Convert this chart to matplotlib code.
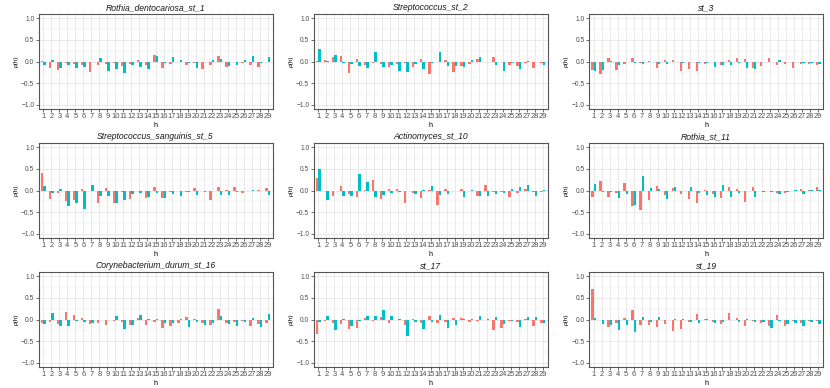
import matplotlib
matplotlib.use('Agg')
import matplotlib.pyplot as plt
import numpy as np

plt.rcParams['font.family'] = ['Liberation Sans', 'DejaVu Sans']

h = list(range(1, 30))

titles = ["Rothia_dentocariosa_st_1", "Streptococcus_st_2", "st_3",
          "Streptococcus_sanguinis_st_5", "Actinomyces_st_10", "Rothia_st_11",
          "Corynebacterium_durum_st_16", "st_17", "st_19"]

p1_red = [0.02, -0.15, -0.19, -0.04, -0.05, -0.08, -0.25, -0.07, -0.05, -0.03, -0.10, -0.05, 0.03, -0.07, 0.14,
          -0.14, -0.05, 0.00, -0.09, -0.04, -0.18, -0.09, 0.12, -0.12, 0.00, -0.03, -0.07, -0.12, -0.02]
p1_teal = [-0.07, 0.03, -0.15, -0.07, -0.15, -0.12, -0.02, 0.08, -0.22, -0.18, -0.27, -0.08, -0.13, -0.17, 0.13,
           -0.03, 0.10, 0.03, -0.03, -0.15, -0.02, 0.03, 0.05, -0.10, -0.07, 0.03, 0.12, -0.03, 0.10]

p2_red = [0.02, 0.04, 0.10, 0.12, -0.27, 0.05, -0.07, -0.03, -0.05, -0.12, -0.06, -0.03, -0.12, 0.05, -0.30,
          0.00, 0.04, -0.24, -0.10, -0.05, 0.05, -0.02, 0.10, 0.00, -0.07, -0.10, -0.04, -0.14, -0.03]
p2_teal = [0.28, 0.01, 0.15, -0.03, -0.05, -0.10, -0.14, 0.22, -0.13, -0.07, -0.22, -0.25, -0.05, -0.17, -0.03,
           0.22, -0.10, -0.10, -0.12, 0.03, 0.11, 0.00, -0.07, -0.22, -0.03, -0.17, 0.02, 0.00, -0.08]

p3_red = [-0.20, -0.28, 0.08, -0.20, -0.06, 0.08, -0.03, 0.02, -0.15, 0.04, 0.03, -0.23, -0.18, -0.22, -0.06,
          -0.02, -0.08, 0.03, 0.08, 0.05, -0.15, -0.10, 0.07, -0.07, -0.06, -0.15, -0.05, -0.05, -0.08]
p3_teal = [-0.22, -0.20, 0.02, -0.08, 0.00, -0.03, -0.05, 0.00, -0.05, -0.05, 0.00, -0.03, 0.00, -0.04, -0.03,
           -0.13, -0.09, -0.07, -0.04, -0.15, -0.17, 0.00, 0.00, 0.04, 0.00, 0.00, -0.03, -0.03, -0.05]

p4_red = [0.41, -0.20, -0.05, -0.24, -0.23, 0.03, -0.02, -0.28, 0.05, -0.30, -0.03, -0.20, 0.00, -0.18, 0.08,
          -0.17, -0.03, -0.02, -0.03, 0.06, 0.00, -0.21, 0.07, 0.02, 0.07, -0.06, -0.01, 0.01, 0.06]
p4_teal = [0.10, -0.06, 0.03, -0.35, -0.30, -0.43, 0.12, -0.12, -0.12, -0.30, -0.22, -0.07, -0.06, -0.14, -0.06,
           -0.17, -0.08, -0.13, -0.03, -0.10, -0.04, 0.00, -0.10, -0.10, -0.03, 0.00, 0.01, 0.00, -0.10]

p5_red = [0.30, 0.00, -0.13, 0.11, -0.07, -0.14, 0.02, 0.25, -0.20, 0.03, 0.04, -0.28, -0.06, -0.17, 0.02,
          -0.33, 0.04, -0.02, 0.04, -0.02, -0.13, 0.13, -0.04, -0.03, -0.14, -0.05, 0.04, -0.03, -0.03]
p5_teal = [0.50, -0.21, -0.02, -0.12, -0.12, 0.39, 0.20, -0.16, -0.10, -0.06, -0.03, 0.00, -0.09, 0.02, 0.10,
           -0.10, -0.07, 0.00, -0.16, 0.01, -0.12, -0.12, -0.07, -0.05, 0.04, 0.08, 0.13, -0.12, 0.02]

p6_red = [-0.16, 0.22, -0.14, -0.06, 0.18, -0.35, -0.44, -0.22, 0.10, -0.10, 0.05, -0.08, -0.20, -0.28, 0.01,
          -0.07, -0.18, 0.08, 0.03, -0.27, 0.08, -0.02, -0.02, -0.06, -0.05, -0.02, 0.04, 0.02, 0.07]
p6_teal = [0.15, -0.03, -0.03, -0.17, -0.08, -0.33, 0.34, 0.06, 0.03, -0.20, 0.09, -0.01, 0.08, -0.06, -0.10,
           -0.16, 0.13, -0.16, -0.05, -0.01, -0.14, -0.04, -0.03, -0.07, -0.03, 0.02, -0.07, 0.01, 0.02]

p7_red = [-0.07, -0.06, -0.10, 0.17, 0.11, 0.04, -0.10, -0.08, -0.12, -0.04, -0.05, -0.12, 0.03, -0.13, -0.05,
          -0.20, -0.14, -0.08, 0.06, 0.02, -0.08, -0.13, 0.25, -0.07, -0.05, -0.03, -0.15, -0.10, -0.08]
p7_teal = [-0.10, 0.16, -0.14, -0.16, -0.03, -0.06, -0.09, -0.01, 0.00, 0.07, -0.23, -0.12, 0.11, 0.02, 0.02,
           -0.08, -0.07, 0.02, -0.18, -0.06, -0.12, -0.07, 0.07, -0.10, -0.14, -0.06, 0.04, -0.17, 0.12]

p8_red = [-0.33, -0.04, -0.07, -0.10, -0.23, -0.19, 0.03, -0.04, 0.05, -0.09, 0.00, -0.13, 0.02, -0.08, 0.07,
          -0.08, -0.06, 0.04, 0.04, -0.06, -0.04, 0.00, -0.24, -0.20, -0.04, -0.06, 0.01, -0.14, -0.07]
p8_teal = [-0.06, 0.09, -0.24, 0.02, -0.15, -0.04, 0.08, 0.08, 0.21, 0.09, 0.02, -0.38, -0.06, -0.23, -0.05,
           0.10, -0.19, -0.13, 0.01, 0.01, 0.09, 0.02, 0.06, -0.10, -0.03, -0.17, 0.06, 0.05, -0.07]

p9_red = [0.71, -0.02, -0.18, -0.07, 0.04, 0.23, -0.13, -0.12, -0.17, -0.11, -0.27, -0.22, -0.05, 0.13, 0.02,
          -0.05, -0.10, 0.14, 0.04, -0.15, -0.03, -0.08, -0.14, 0.11, -0.16, -0.03, -0.08, -0.03, -0.04]
p9_teal = [0.04, -0.10, -0.13, -0.25, -0.13, -0.28, 0.06, -0.05, 0.06, 0.00, 0.02, 0.02, -0.05, -0.08, 0.01,
           -0.07, -0.06, -0.02, -0.05, 0.02, -0.05, -0.06, -0.19, -0.03, -0.10, -0.07, -0.14, -0.06, -0.10]

red_series = [p1_red, p2_red, p3_red, p4_red, p5_red, p6_red, p7_red, p8_red, p9_red]
teal_series = [p1_teal, p2_teal, p3_teal, p4_teal, p5_teal, p6_teal, p7_teal, p8_teal, p9_teal]

RED = '#F8766D'
TEAL = '#00BFC4'
W_FIG, H_FIG = 830, 388

fig = plt.figure(figsize=(8.3, 3.88), dpi=100)
fig.patch.set_facecolor('white')

lefts = [38.5, 313.5, 589.0]
tops = [14.0, 143.0, 272.0]
PW, PH = 234.0, 95.0

ytick_vals = [-1.0, -0.5, 0.0, 0.5, 1.0]
ytick_labels = ['\u22121.0', '\u22120.5', '0.0', '0.5', '1.0']

for i in range(9):
    row, col = divmod(i, 3)
    ax = fig.add_axes([lefts[col] / W_FIG, 1 - (tops[row] + PH) / H_FIG, PW / W_FIG, PH / H_FIG])
    x = np.array(h, dtype=float)
    ax.bar(x - 0.15, red_series[i], width=0.3, color=RED, linewidth=0, zorder=3)
    ax.bar(x + 0.15, teal_series[i], width=0.3, color=TEAL, linewidth=0, zorder=3)
    ax.set_xlim(0.4, 29.6)
    ax.set_ylim(-1.1, 1.1)
    ax.set_xticks(h)
    ax.set_xticklabels([str(v) for v in h], fontsize=5.4, color='#4D4D4D')
    ax.set_yticks(ytick_vals)
    ax.set_yticklabels(ytick_labels, fontsize=4.8, color='#4D4D4D')
    ax.set_yticks([-0.75, -0.25, 0.25, 0.75], minor=True)
    ax.grid(True, which='major', color='#E5E5E5', linewidth=0.6, zorder=0)
    ax.grid(True, which='minor', axis='y', color='#EBEBEB', linewidth=0.35, zorder=0)
    ax.set_axisbelow(True)
    ax.tick_params(axis='both', which='major', length=2, width=0.5, color='#333333', pad=1)
    ax.tick_params(axis='both', which='minor', length=0)
    for sp in ax.spines.values():
        sp.set_color('#555555')
        sp.set_linewidth(0.8)
    ax.set_title(titles[i], fontsize=6.2, style='italic', pad=3, color='#1A1A1A')
    ax.set_ylabel('\u03c1(h)', fontsize=4.6, labelpad=2)
    ax.set_xlabel('h', fontsize=5.2, labelpad=1.5)

fig.savefig('out.png', dpi=100, facecolor='white')
